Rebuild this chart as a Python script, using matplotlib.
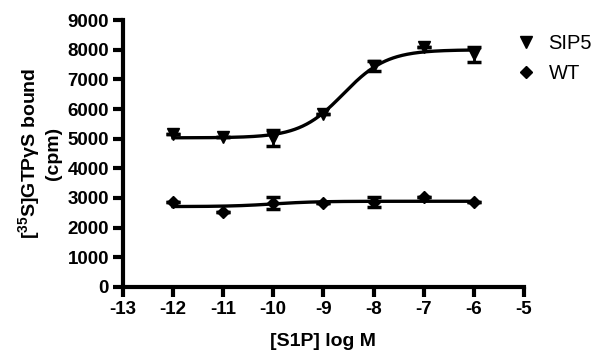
import numpy as np
import matplotlib
matplotlib.use("Agg")
import matplotlib.pyplot as plt

plt.rcParams['font.family'] = ['Liberation Sans', 'DejaVu Sans']
plt.rcParams['axes.unicode_minus'] = False
plt.rcParams['mathtext.fontset'] = 'custom'
plt.rcParams['mathtext.rm'] = 'Liberation Sans:bold'
plt.rcParams['mathtext.it'] = 'Liberation Sans:bold'
plt.rcParams['mathtext.bf'] = 'Liberation Sans:bold'

log_conc = [-12, -11, -10, -9, -8, -7, -6]
sip5 = [5150, 5050, 5020, 5850, 7450, 8080, 7850]
sip5_err = [0, 0, 280, 0, 170, 0, 260]
wt = [2860, 2530, 2830, 2840, 2860, 3050, 2860]
wt_err = [0, 0, 200, 0, 180, 0, 0]

# fitted sigmoid parameters (bottom, top, logEC50)
sip5_fit = (5030, 8000, -8.6)
wt_fit = (2710, 2890, -10.0)

fig = plt.figure(figsize=(6.05, 3.6), dpi=100)
ax = fig.add_axes([0.203, 0.203, 0.663, 0.741])

def sig(x, p):
    b, t, ec = p
    return b + (t - b) / (1 + 10 ** (ec - x))

xs = np.linspace(-12, -6, 300)
ax.plot(xs, sig(xs, sip5_fit), color='black', lw=2.4)
ax.plot(xs, sig(xs, wt_fit), color='black', lw=2.4)

ax.errorbar(log_conc, sip5, yerr=sip5_err, fmt='v', color='black', ms=8,
            capsize=5, elinewidth=2, capthick=2.5, label='SIP5')
ax.errorbar(log_conc, wt, yerr=wt_err, fmt='D', color='black', ms=6.5,
            capsize=5, elinewidth=2, capthick=2.5, label='WT')

ax.set_xlim(-13, -5)
ax.set_ylim(0, 9000)
ax.set_xticks(range(-13, -4))
ax.set_yticks(range(0, 9001, 1000))
for s in ['top', 'right']:
    ax.spines[s].set_visible(False)
for s in ['left', 'bottom']:
    ax.spines[s].set_linewidth(3)
ax.tick_params(width=3, length=7, labelsize=13.5, pad=3)
for lab in ax.get_xticklabels() + ax.get_yticklabels():
    lab.set_fontweight('bold')

ax.set_xlabel('[S1P] log M', fontsize=14, fontweight='bold', labelpad=11)
ax.set_ylabel('[$^{35}$S]GTPγS bound\n(cpm)', fontsize=14,
              fontweight='bold', labelpad=4)

hs = [plt.Line2D([], [], marker=m, ls='none', color='black', ms=s)
      for m, s in [('v', 8), ('D', 6.5)]]
fig.legend(hs, ['SIP5', 'WT'], loc='upper left', bbox_to_anchor=(0.82, 0.955),
           frameon=False, fontsize=14.5, handletextpad=0.5, labelspacing=0.55,
           handlelength=1.2)

fig.savefig('out.png', dpi=100)
